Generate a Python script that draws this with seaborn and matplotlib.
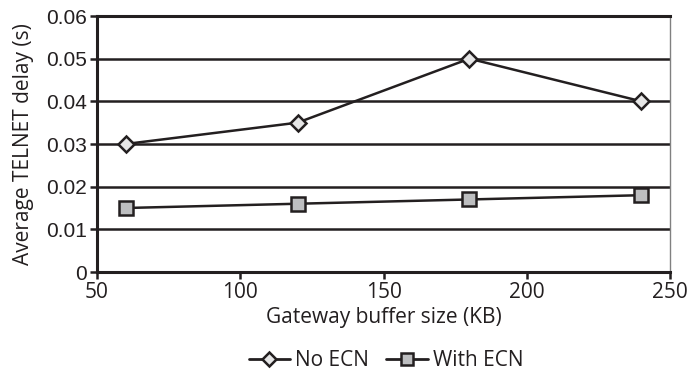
import matplotlib
matplotlib.use("Agg")
import matplotlib.pyplot as plt
from matplotlib.lines import Line2D
import seaborn as sns
import pandas as pd

buffer_kb = [60, 120, 180, 240]
no_ecn = [0.030, 0.035, 0.050, 0.040]
with_ecn = [0.015, 0.016, 0.017, 0.018]
series_names = ["No ECN", "With ECN"]
x_ticks = [50, 100, 150, 200, 250]
y_ticks = [0, 0.01, 0.02, 0.03, 0.04, 0.05, 0.06]
y_tick_labels = ["0", "0.01", "0.02", "0.03", "0.04", "0.05", "0.06"]

INK = "#231f20"
DIAMOND_FILL = "#e6e6e6"
SQUARE_FILL = "#bdbec0"

sns.set_theme(style="white")
plt.rcParams["font.family"] = ["Open Sans", "DejaVu Sans"]

df = pd.DataFrame({
    "buffer": buffer_kb * 2,
    "delay": no_ecn + with_ecn,
    "series": [series_names[0]] * len(buffer_kb) + [series_names[1]] * len(buffer_kb),
})

fig = plt.figure(figsize=(6.89, 3.74), dpi=100)
ax = fig.add_axes([97 / 689, 1 - 272 / 374, (670 - 97) / 689, (272 - 16) / 374])

sns.lineplot(
    data=df, x="buffer", y="delay", hue="series", style="series",
    palette={series_names[0]: INK, series_names[1]: INK},
    markers={series_names[0]: "D", series_names[1]: "s"},
    dashes=False, linewidth=1.8, ax=ax, legend=False, zorder=3,
)
lines = ax.get_lines()
styles = [(8, DIAMOND_FILL), (10, SQUARE_FILL)]
for ln, (ms, fc) in zip(lines, styles):
    ln.set_markersize(ms)
    ln.set_markerfacecolor(fc)
    ln.set_markeredgecolor(INK)
    ln.set_markeredgewidth(1.8)

ax.set_xlim(50, 250)
ax.set_ylim(0, 0.06)
ax.set_xticks(x_ticks)
ax.set_yticks(y_ticks)
ax.set_yticklabels(y_tick_labels, family=["Liberation Sans", "DejaVu Sans"])
for y in y_ticks[1:]:
    ax.axhline(y, color=INK, linewidth=1.8, zorder=1)

for side in ["left", "bottom", "top"]:
    ax.spines[side].set_color(INK)
    ax.spines[side].set_linewidth(2.2)
ax.spines["right"].set_color("#808080")
ax.spines["right"].set_linewidth(1.0)

ax.tick_params(axis="both", direction="out", length=5, width=1.8,
               color=INK, labelsize=15, labelcolor=INK, pad=2)
ax.tick_params(axis="y", left=True)
ax.tick_params(axis="x", bottom=True)

ax.set_xlabel("Gateway buffer size (KB)", fontsize=15, color=INK, labelpad=3)
ax.set_ylabel("Average TELNET delay (s)", fontsize=15, color=INK, labelpad=9)

legend_handles = [
    Line2D([], [], color=INK, linewidth=2.0, marker="D", markersize=7,
           markerfacecolor=DIAMOND_FILL, markeredgecolor=INK, markeredgewidth=1.8),
    Line2D([], [], color=INK, linewidth=2.0, marker="s", markersize=8,
           markerfacecolor=SQUARE_FILL, markeredgecolor=INK, markeredgewidth=1.8),
]
fig.legend(legend_handles, series_names, loc="center",
           bbox_to_anchor=(386 / 689, 1 - 361 / 374),
           ncol=2, frameon=False, fontsize=15, handlelength=2.0,
           handletextpad=0.25, columnspacing=0.8, labelcolor=INK,
           borderpad=0, borderaxespad=0)

fig.savefig("out.png", dpi=100)
